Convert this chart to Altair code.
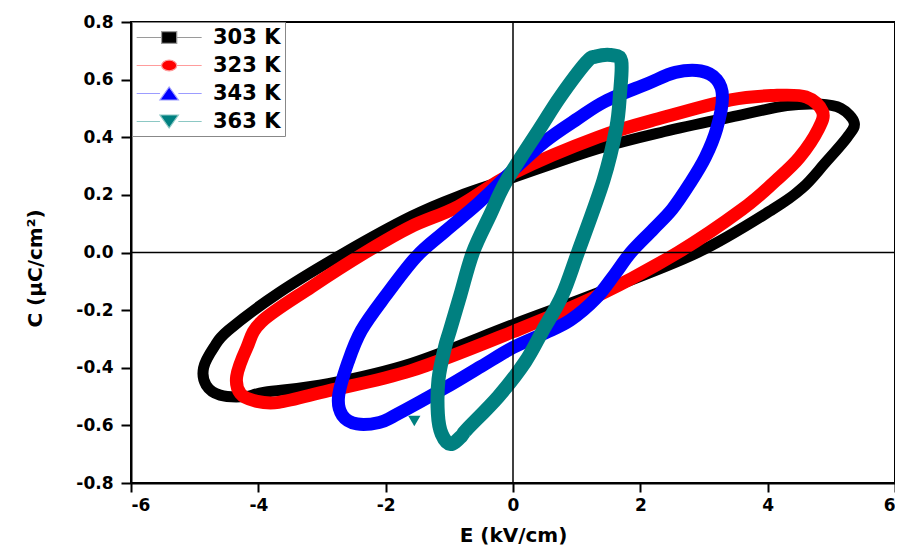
import altair as alt
import pandas as pd

series = ["303 K", "323 K", "343 K", "363 K"]
colors = ["#000000", "#ff0000", "#0000ff", "#008080"]
legend_line_colors = ["#9a9a9a", "#ff9c9c", "#9c9cff", "#8cc8c4"]
widths = [11, 13, 13, 14]

# loop points (E in kV/cm, C in uC/cm^2), traced around each loop
E_303 = [5.36, 5.15, 4.80, 4.30, 3.42, 2.38, 1.33, 0.00, -0.86, -1.60, -2.64, -3.68, -4.47, -4.70,
         -4.86, -4.82, -4.60, -4.20, -3.90, -2.90, -1.60, 0.00, 1.33, 2.90, 4.08, 4.55, 4.90, 5.25]
C_303 = [0.45, 0.50, 0.515, 0.51, 0.47, 0.42, 0.36, 0.26, 0.195, 0.125, 0.00, -0.14, -0.27, -0.33,
         -0.40, -0.46, -0.495, -0.50, -0.485, -0.455, -0.385, -0.25, -0.14, 0.00, 0.15, 0.225, 0.31, 0.40]

E_323 = [4.86, 4.60, 4.10, 3.42, 2.38, 1.33, 0.00, -0.86, -1.60, -2.32, -3.17, -3.95, -4.18, -4.34,
         -4.28, -4.05, -3.68, -2.90, -1.60, 0.00, 1.33, 2.59, 3.60, 4.13, 4.50, 4.80]
C_323 = [0.49, 0.54, 0.545, 0.53, 0.47, 0.40, 0.275, 0.16, 0.09, 0.00, -0.12, -0.24, -0.33, -0.43,
         -0.49, -0.515, -0.52, -0.48, -0.41, -0.275, -0.15, 0.00, 0.15, 0.25, 0.33, 0.43]

E_343 = [3.29, 3.20, 2.95, 2.55, 2.10, 1.45, 1.02, 0.50, 0.00, -0.55, -1.07, -1.52, -2.00, -2.38,
         -2.59, -2.74, -2.68, -2.45, -2.10, -1.85, -1.07, -0.50, 0.00, 0.50, 0.90, 1.30, 1.60, 1.85,
         2.20, 2.50, 2.78, 3.02, 3.20]
C_343 = [0.54, 0.60, 0.63, 0.625, 0.585, 0.525, 0.465, 0.385, 0.285, 0.17, 0.073, -0.015, -0.15, -0.27,
         -0.38, -0.50, -0.565, -0.595, -0.59, -0.565, -0.47, -0.395, -0.33, -0.28, -0.235, -0.16, -0.075,
         0.00, 0.08, 0.15, 0.24, 0.33, 0.43]

E_363 = [1.70, 1.55, 1.30, 1.15, 0.74, 0.42, -0.10, -0.36, -0.63, -0.83, -0.99, -1.07, -1.17, -1.18,
         -1.12, -0.98, -0.80, -0.73, -0.23, 0.19, 0.47, 0.77, 1.02, 1.42, 1.62, 1.68]
C_363 = [0.665, 0.685, 0.68, 0.66, 0.54, 0.43, 0.25, 0.13, 0.00, -0.15, -0.27, -0.33, -0.44, -0.56,
         -0.63, -0.665, -0.635, -0.615, -0.50, -0.38, -0.27, -0.15, 0.00, 0.25, 0.43, 0.55]

# stray start marker of the 363 K series
E_start = [-1.55]
C_start = [-0.585]

x_ticks = [-6, -4, -2, 0, 2, 4, 6]
y_ticks = [-0.8, -0.6, -0.4, -0.2, 0.0, 0.2, 0.4, 0.6, 0.8]

rows = []
for name, es, cs in [("303 K", E_303, C_303), ("323 K", E_323, C_323),
                     ("343 K", E_343, C_343), ("363 K", E_363, C_363)]:
    for i, (e, c) in enumerate(zip(es, cs)):
        rows.append({"series": name, "E": e, "C": c, "i": i})
df = pd.DataFrame(rows)
start_df = pd.DataFrame({"E": E_start, "C": C_start, "series": ["363 K"]})
zero_df = pd.DataFrame({"E": [0.0], "C": [0.0]})
legend_df = pd.DataFrame({"E": [0.0] * 4, "C": [0.0] * 4, "series": series})

FONT = "DejaVu Sans"
x_scale = alt.Scale(domain=[-6, 6], nice=False, zero=False)
y_scale = alt.Scale(domain=[-0.8, 0.8], nice=False, zero=False)

fix_minus = "replace(datum.label, '\u2212', '-')"

x_axis = alt.Axis(title="E (kV/cm)", values=x_ticks, format="d", grid=False,
                  labelFont=FONT, labelFontSize=17, labelFontWeight="bold", labelColor="black",
                  labelPadding=5, labelExpr=fix_minus,
                  tickSize=9, tickWidth=2, tickColor="black",
                  domainColor="black", domainWidth=2,
                  titleFont=FONT, titleFontSize=20, titleFontWeight="bold", titleColor="black",
                  titleBaseline="alphabetic", titleY=58)
y_axis = alt.Axis(title="C (\u03bcC/cm\u00b2)", values=y_ticks, format=".1f", grid=False,
                  labelFont=FONT, labelFontSize=17, labelFontWeight="bold", labelColor="black",
                  labelPadding=8, labelExpr=fix_minus,
                  tickSize=10, tickWidth=2, tickColor="black",
                  domainColor="black", domainWidth=2,
                  titleFont=FONT, titleFontSize=20, titleFontWeight="bold", titleColor="black",
                  titleX=-86, titleY=246, titleAlign="center", titleBaseline="bottom", titleAngle=270)

X = alt.X("E:Q", scale=x_scale, axis=x_axis)
Y = alt.Y("C:Q", scale=y_scale, axis=y_axis)

layers = []
for name, col, w in zip(series, colors, widths):
    layers.append(
        alt.Chart(df).transform_filter(alt.datum.series == name)
        .mark_line(interpolate="cardinal-closed", strokeJoin="round", strokeCap="round",
                   color=col, strokeWidth=w)
        .encode(x=X, y=Y, order=alt.Order("i:Q"))
    )

start_pt = alt.Chart(start_df).mark_point(shape="triangle-down", filled=True, size=150,
                                          opacity=1, color="#008080").encode(x=X, y=Y)

hline = alt.Chart(zero_df).mark_rule(color="black", strokeWidth=1.5).encode(y=Y)
vline = alt.Chart(zero_df).mark_rule(color="black", strokeWidth=1.5).encode(x=X)

# legend symbols: thin line with marker (unit = sqrt(size)/2 px)
paths = [
    "M-1,0L1.3,0M2.7,0L5,0M1.3,-0.55L2.7,-0.55L2.7,0.55L1.3,0.55Z",
    "M-1,0L1.3,0M2.7,0L5,0M1.3,0A0.7,0.5 0 1,0 2.7,0A0.7,0.5 0 1,0 1.3,0Z",
    "M-1,0L1.15,0M2.85,0L5,0M1.15,0.6L2.85,0.6L2,-0.6Z",
    "M-1,0L1.15,0M2.85,0L5,0M1.15,-0.6L2.85,-0.6L2,0.6Z",
]


def make_legend():
    return alt.Legend(title=None, orient="none", legendX=1, legendY=0, symbolSize=469,
                      labelFont=FONT, labelFontSize=21, labelFontWeight="bold", labelColor="black",
                      labelOffset=54, padding=4, rowPadding=6,
                      strokeColor="#888888", fillColor="white",
                      symbolStrokeWidth=1.2, symbolOpacity=1)


legend_layer = alt.Chart(legend_df).mark_point(filled=True, opacity=0).encode(
    x=X, y=Y,
    fill=alt.Fill("series:N", scale=alt.Scale(domain=series, range=colors), legend=make_legend()),
    stroke=alt.Stroke("series:N", scale=alt.Scale(domain=series, range=legend_line_colors),
                      legend=make_legend()),
    shape=alt.Shape("series:N", scale=alt.Scale(domain=series, range=paths), legend=make_legend()),
)

chart = alt.layer(*layers, start_pt, hline, vline, legend_layer).properties(
    width=764, height=461,
    padding={"left": 123, "top": 14, "right": 0, "bottom": 65},
    autosize=alt.AutoSizeParams(type="none"),
).configure(
    background="white",
    view=alt.ViewConfig(stroke="black", strokeWidth=2),
)

chart.save("out.html", embed_options={"renderer": "svg", "actions": False})
